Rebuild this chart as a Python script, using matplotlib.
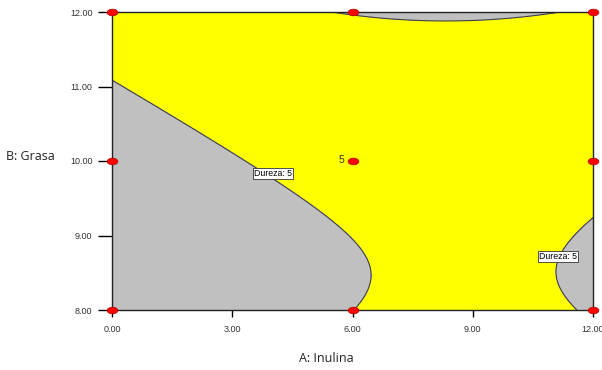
import numpy as np
import matplotlib
matplotlib.use("Agg")
import matplotlib.pyplot as plt
from matplotlib.path import Path
from matplotlib.markers import MarkerStyle

# diseño factorial 3x3 (A: Inulina, B: Grasa) con 5 réplicas en el centro
inulina = [0, 0, 0, 6, 6, 6, 12, 12, 12]
grasa = [8, 10, 12, 8, 10, 12, 8, 10, 12]
replicas = [1, 1, 1, 1, 5, 1, 1, 1, 1]

# respuestas medias en cada punto del diseño
dureza = [7.500, 6.654, 2.956, 5.007, 4.245, 0.631, 5.087, 4.403, 0.879]
respuesta2 = [10.189, 14.189, 18.189, 12.080, 16.080, 20.080, 11.842, 15.842, 19.842]

# límites máximos de cada criterio
dureza_max = 5
respuesta2_max = 20

x_ticks = [0, 3, 6, 9, 12]
y_ticks = [8, 9, 10, 11, 12]


def modelo_cuadratico(a, b, y):
    a = np.asarray(a, float)
    b = np.asarray(b, float)
    X = np.column_stack([np.ones_like(a), a, b, a * b, a ** 2, b ** 2])
    coef, *_ = np.linalg.lstsq(X, np.asarray(y, float), rcond=None)

    def f(aa, bb):
        return (coef[0] + coef[1] * aa + coef[2] * bb + coef[3] * aa * bb
                + coef[4] * aa ** 2 + coef[5] * bb ** 2)
    return f


f_dureza = modelo_cuadratico(inulina, grasa, dureza)
f_resp2 = modelo_cuadratico(inulina, grasa, respuesta2)

ga, gb = np.meshgrid(np.linspace(0, 12, 500), np.linspace(8, 12, 500))
zd = f_dureza(ga, gb)
zr = f_resp2(ga, gb)

fig = plt.figure(figsize=(6.02, 3.70), dpi=100)
ax = fig.add_axes([112 / 602, 60 / 370, 481 / 602, 298 / 370])
ax.set_facecolor("#FFFF00")

gris = "#C0C0C0"
linea = "#404040"
ax.contourf(ga, gb, zd, levels=[dureza_max, zd.max() + 1], colors=[gris])
ax.contourf(ga, gb, zr, levels=[respuesta2_max, zr.max() + 1], colors=[gris])
ax.contour(ga, gb, zd, levels=[dureza_max], colors=[linea], linewidths=0.8)
ax.contour(ga, gb, zr, levels=[respuesta2_max], colors=[linea], linewidths=0.8)

# etiquetas de la curva de dureza
caja = dict(boxstyle="square,pad=0.15", fc="white", ec="#333333", lw=0.6)
for xl, yl in [(4.02, 9.83), (11.13, 8.72)]:
    ax.text(xl, yl, "Dureza: %g" % dureza_max, fontsize=6.3, family="Liberation Sans",
            ha="center", va="center", bbox=caja, zorder=5)

# puntos del diseño
elipse = Path(Path.unit_circle().vertices * [1.0, 0.62], Path.unit_circle().codes)
ax.scatter(inulina, grasa, s=60, marker=MarkerStyle(elipse), c="#FF0000",
           edgecolors="#B00000", linewidths=0.5, clip_on=False, zorder=6)
for a, b, n in zip(inulina, grasa, replicas):
    if n > 1:
        ax.annotate(str(n), (a, b), xytext=(-6, 1), textcoords="offset points",
                    ha="right", va="center", fontsize=7.5, color="#333300",
                    family="Liberation Sans")

ax.set_xlim(0, 12)
ax.set_ylim(8, 12)
ax.set_xticks(x_ticks)
ax.set_yticks(y_ticks)
ax.set_xticklabels(["%.2f" % v for v in x_ticks], fontsize=6.5, color="#333333",
                   family="Liberation Sans")
ax.set_yticklabels(["%.2f" % v for v in y_ticks], fontsize=6.5, color="#333333",
                   family="Liberation Sans")
ax.tick_params(axis="x", length=5, width=1, pad=6)
ax.tick_params(axis="y", length=10, width=1, pad=4)
for t, v in zip(ax.xaxis.get_major_ticks(), x_ticks):
    t.tick1line.set_color("#222222" if v in inulina else "#999999")
for t, v in zip(ax.yaxis.get_major_ticks(), y_ticks):
    t.tick1line.set_color("#222222" if v in grasa else "#999999")
for s in ax.spines.values():
    s.set_color("#222222")
    s.set_linewidth(1)
    s.set_zorder(4)

fig.text(326 / 602, 1 - 358 / 370, "A: Inulina", fontsize=9, family="Open Sans",
         ha="center", va="center", color="#222222")
fig.text(30 / 602, 1 - 157 / 370, "B: Grasa", fontsize=9, family="Open Sans",
         ha="center", va="center", color="#222222")

fig.savefig("out.png", dpi=100)
